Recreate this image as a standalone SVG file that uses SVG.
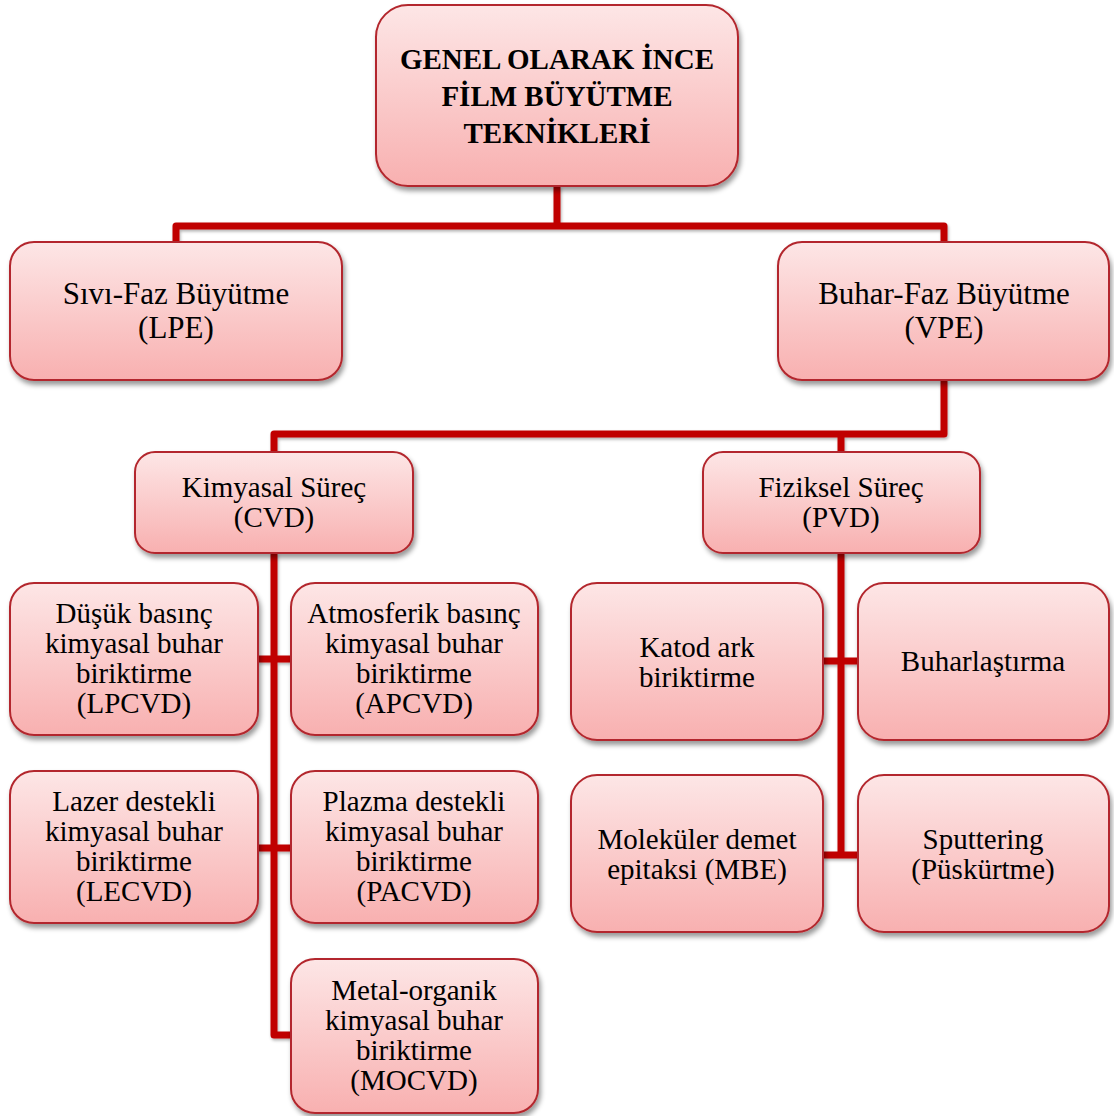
<svg xmlns="http://www.w3.org/2000/svg" width="1114" height="1116" viewBox="0 0 1114 1116">
<defs>
<linearGradient id="g" x1="0" y1="0" x2="0" y2="1">
<stop offset="0" stop-color="#fde6e6"/>
<stop offset="1" stop-color="#f8b0b0"/>
</linearGradient>
<filter id="sh" x="-10%" y="-10%" width="125%" height="130%">
<feDropShadow dx="2" dy="4" stdDeviation="2.5" flood-color="#000" flood-opacity="0.4"/>
</filter>
<filter id="lsh" x="-10%" y="-10%" width="120%" height="120%">
<feDropShadow dx="1" dy="2" stdDeviation="1.5" flood-color="#000" flood-opacity="0.3"/>
</filter>
</defs>
<style>
.box{fill:url(#g);stroke:#b3282d;stroke-width:2;filter:url(#sh)}
.t{font-family:"Liberation Serif","Times New Roman",serif;fill:#000;text-anchor:middle}
.l2{font-size:31px}
.l3{font-size:29px}
.top{font-size:29px;font-weight:bold}
.c{fill:none;stroke:#c00000;stroke-width:7;stroke-linejoin:round;filter:url(#lsh)}
</style>
<rect width="1114" height="1116" fill="#fff"/>
<g id="connectors">
<path class="c" d="M557,186 V226 M176,242 V226 H944 V242"/>
<path class="c" d="M944,380 V434 H274 V452 M841,434 V452"/>
<path class="c" d="M274,553 V1035 H291 M258,659 H291 M258,848 H291"/>
<path class="c" d="M841,553 V855 M823,661 H858 M823,855 H858"/>
</g>
<g id="root">
<rect class="box" x="376" y="5" width="362" height="181" rx="32"/>
<text class="t top"><tspan x="557" y="69">GENEL OLARAK İNCE</tspan><tspan x="557" y="106">FİLM BÜYÜTME</tspan><tspan x="557" y="143">TEKNİKLERİ</tspan></text>
</g>
<g id="lpe">
<rect class="box" x="10" y="242" width="332" height="138" rx="24"/>
<text class="t l2"><tspan x="176" y="304">Sıvı-Faz Büyütme</tspan><tspan x="176" y="338">(LPE)</tspan></text>
</g>
<g id="vpe">
<rect class="box" x="778" y="242" width="331" height="138" rx="24"/>
<text class="t l2"><tspan x="944" y="304">Buhar-Faz Büyütme</tspan><tspan x="944" y="338">(VPE)</tspan></text>
</g>
<g id="cvd">
<rect class="box" x="135" y="452" width="278" height="101" rx="20"/>
<text class="t l3"><tspan x="274" y="497">Kimyasal Süreç</tspan><tspan x="274" y="527">(CVD)</tspan></text>
</g>
<g id="pvd">
<rect class="box" x="703" y="452" width="277" height="101" rx="20"/>
<text class="t l3"><tspan x="841" y="497">Fiziksel Süreç</tspan><tspan x="841" y="527">(PVD)</tspan></text>
</g>
<g id="lpcvd">
<rect class="box" x="10" y="583" width="248" height="152" rx="24"/>
<text class="t l3"><tspan x="134" y="623">Düşük basınç</tspan><tspan x="134" y="653">kimyasal buhar</tspan><tspan x="134" y="683">biriktirme</tspan><tspan x="134" y="713">(LPCVD)</tspan></text>
</g>
<g id="apcvd">
<rect class="box" x="291" y="583" width="247" height="152" rx="24"/>
<text class="t l3"><tspan x="414" y="623">Atmosferik basınç</tspan><tspan x="414" y="653">kimyasal buhar</tspan><tspan x="414" y="683">biriktirme</tspan><tspan x="414" y="713">(APCVD)</tspan></text>
</g>
<g id="lecvd">
<rect class="box" x="10" y="771" width="248" height="152" rx="24"/>
<text class="t l3"><tspan x="134" y="811">Lazer destekli</tspan><tspan x="134" y="841">kimyasal buhar</tspan><tspan x="134" y="871">biriktirme</tspan><tspan x="134" y="901">(LECVD)</tspan></text>
</g>
<g id="pacvd">
<rect class="box" x="291" y="771" width="247" height="152" rx="24"/>
<text class="t l3"><tspan x="414" y="811">Plazma destekli</tspan><tspan x="414" y="841">kimyasal buhar</tspan><tspan x="414" y="871">biriktirme</tspan><tspan x="414" y="901">(PACVD)</tspan></text>
</g>
<g id="mocvd">
<rect class="box" x="291" y="959" width="247" height="154" rx="24"/>
<text class="t l3"><tspan x="414" y="1000">Metal-organik</tspan><tspan x="414" y="1030">kimyasal buhar</tspan><tspan x="414" y="1060">biriktirme</tspan><tspan x="414" y="1090">(MOCVD)</tspan></text>
</g>
<g id="katod">
<rect class="box" x="571" y="583" width="252" height="157" rx="26"/>
<text class="t l3"><tspan x="697" y="657">Katod ark</tspan><tspan x="697" y="687">biriktirme</tspan></text>
</g>
<g id="buharlastirma">
<rect class="box" x="858" y="583" width="251" height="157" rx="26"/>
<text class="t l3"><tspan x="983" y="671">Buharlaştırma</tspan></text>
</g>
<g id="mbe">
<rect class="box" x="571" y="775" width="252" height="157" rx="26"/>
<text class="t l3"><tspan x="697" y="849">Moleküler demet</tspan><tspan x="697" y="879">epitaksi (MBE)</tspan></text>
</g>
<g id="sputtering">
<rect class="box" x="858" y="775" width="251" height="157" rx="26"/>
<text class="t l3"><tspan x="983" y="849">Sputtering</tspan><tspan x="983" y="879">(Püskürtme)</tspan></text>
</g>
</svg>
